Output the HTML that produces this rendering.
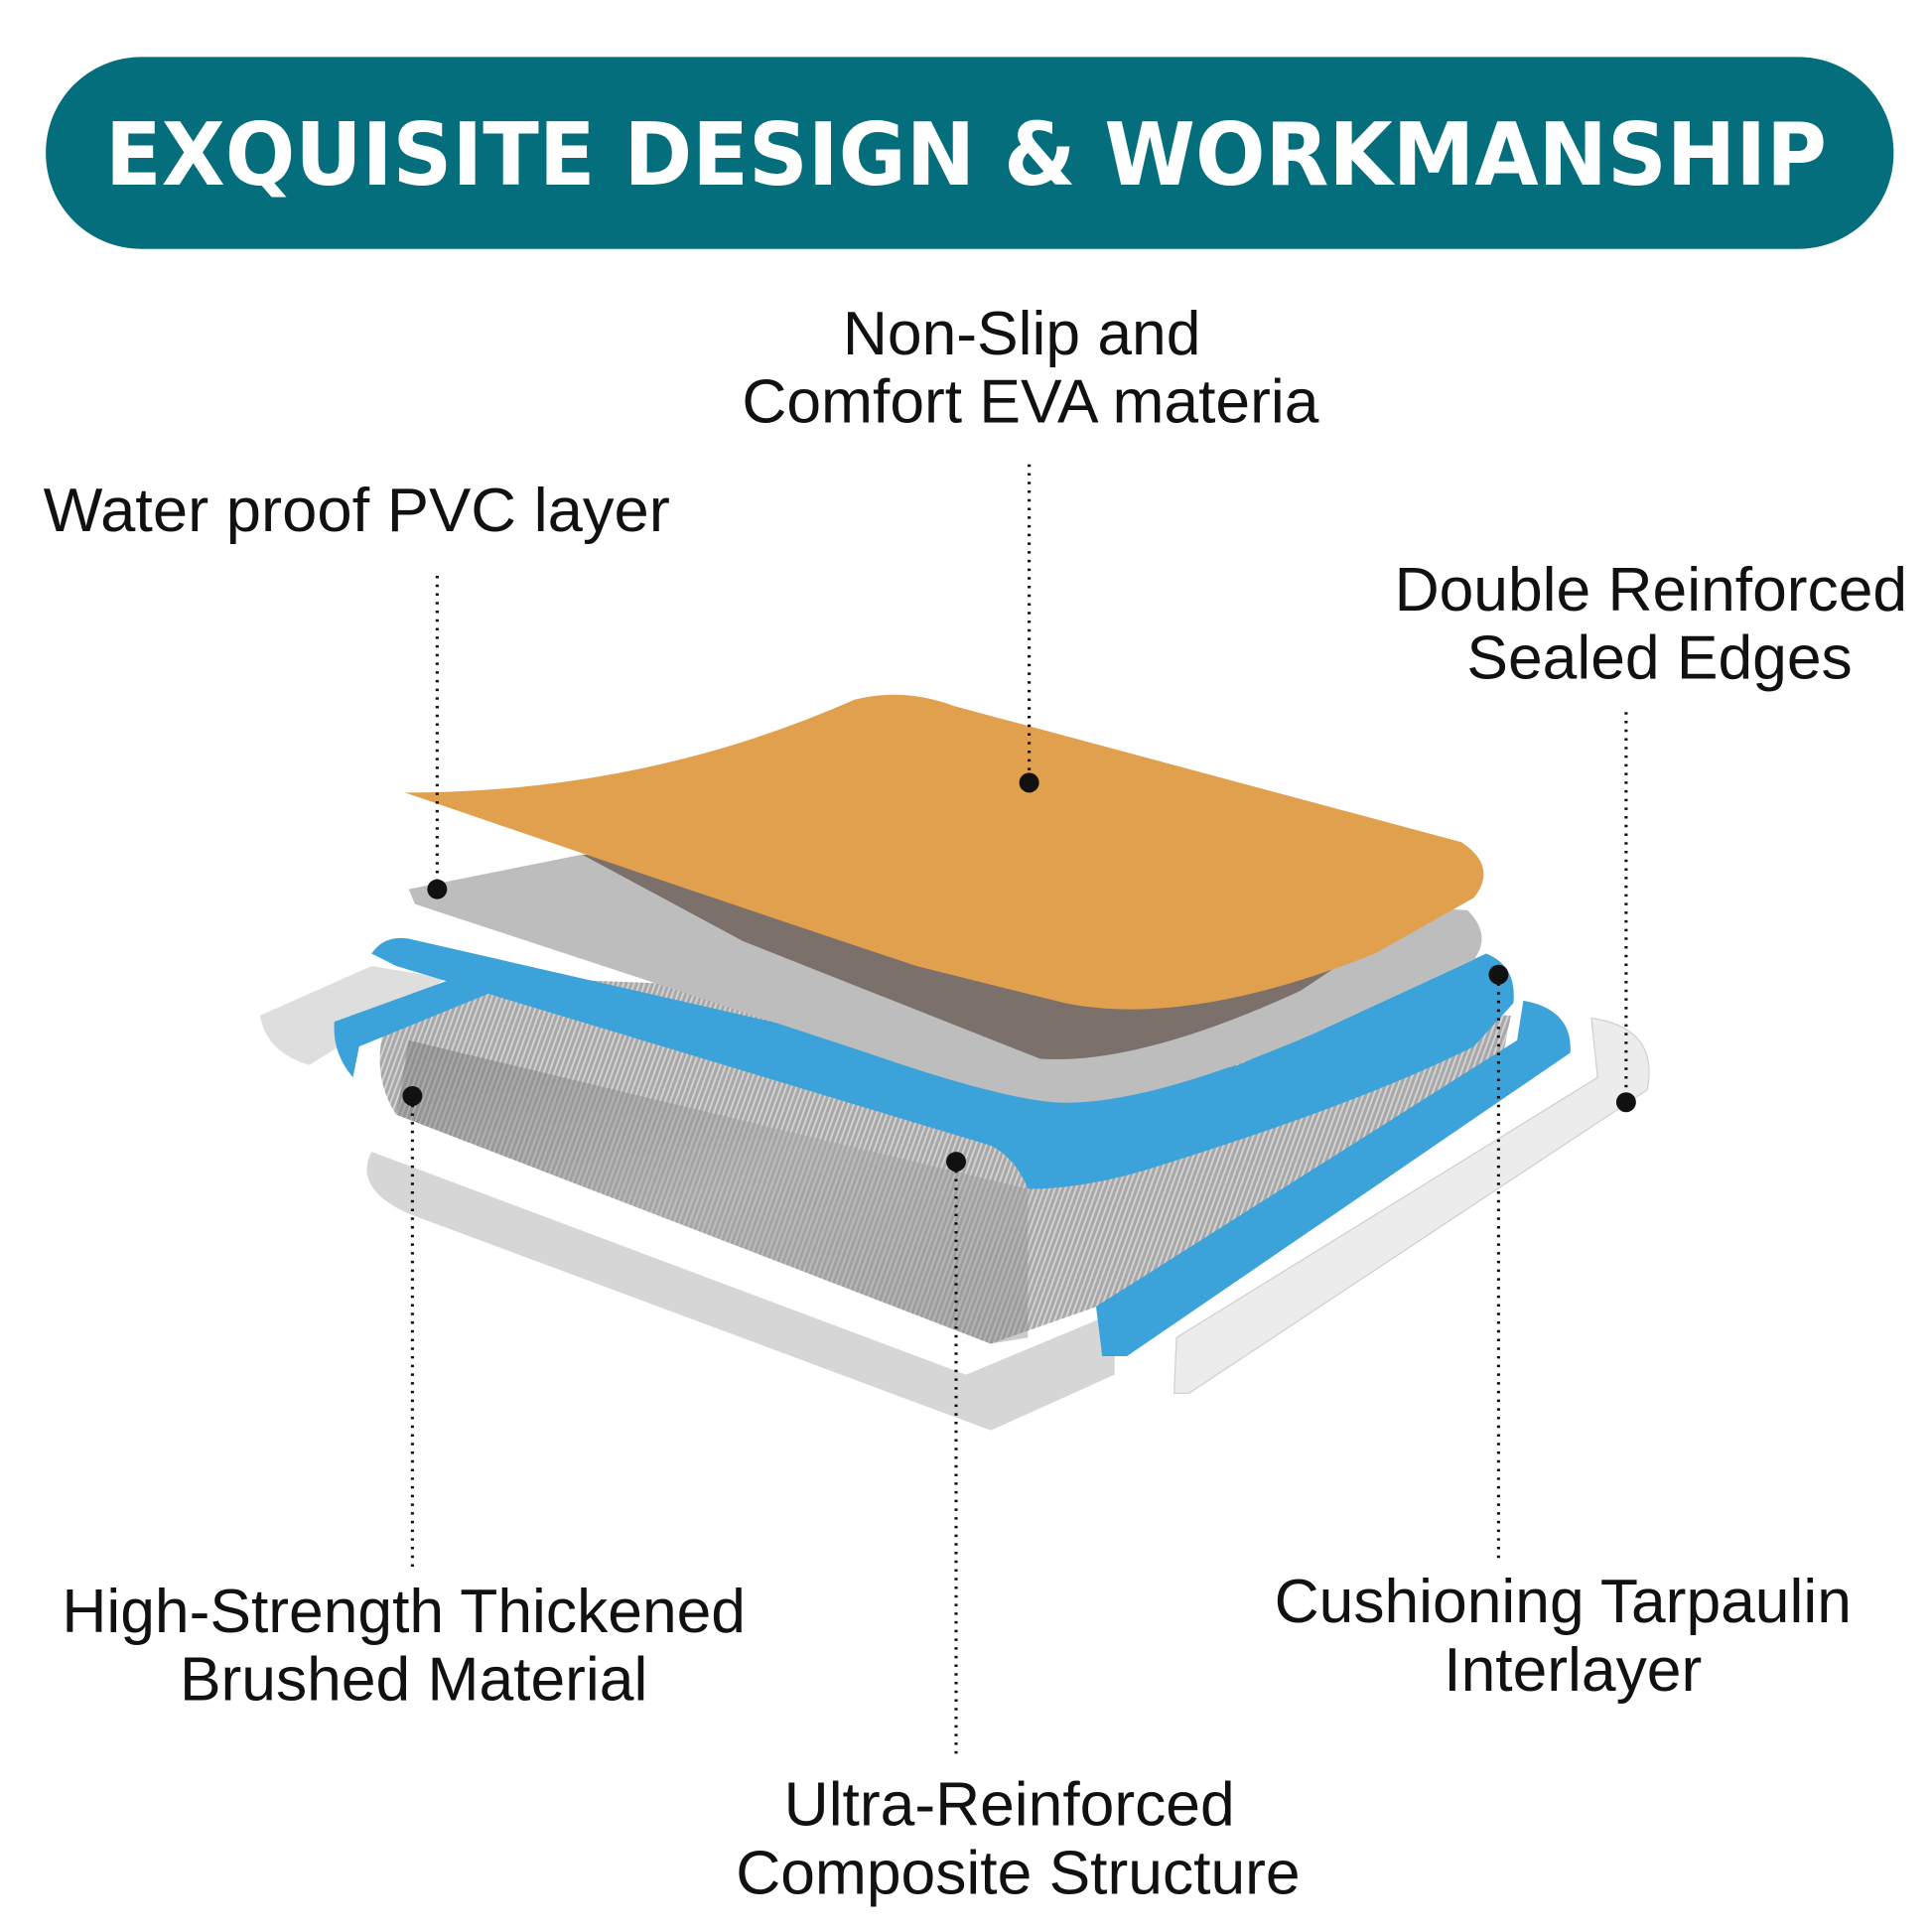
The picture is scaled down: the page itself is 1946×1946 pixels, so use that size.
<!DOCTYPE html>
<html><head><meta charset="utf-8"><style>
html,body{margin:0;padding:0;background:#fff}
svg{display:block}
text{font-family:"Liberation Sans",sans-serif}
</style></head><body>
<svg width="1946" height="1946" viewBox="0 0 1560 1560" xmlns="http://www.w3.org/2000/svg">
<defs>
<linearGradient id="mesh" x1="0" y1="0" x2="1" y2="1"><stop offset="0" stop-color="#6d6d6d"/><stop offset=".5" stop-color="#a5a5a5"/><stop offset="1" stop-color="#8a8a8a"/></linearGradient>
<pattern id="lines" width="4" height="4" patternUnits="userSpaceOnUse" patternTransform="rotate(20)"><rect width="4" height="4" fill="#a8a8a8"/><rect width="1.5" height="4" fill="#d4d4d4"/></pattern>
</defs>
<rect x="37" y="46" width="1492" height="155" rx="77" fill="#046e7c"/>
<text x="780" y="149" text-anchor="middle" fill="#fff" font-size="70" font-weight="bold" textLength="1390" lengthAdjust="spacingAndGlyphs" style="font-family:'DejaVu Sans','Liberation Sans',sans-serif;font-weight:900">EXQUISITE DESIGN &amp; WORKMANSHIP</text>

<g fill="#111" font-size="50">
<text x="825" y="286" text-anchor="middle">Non-Slip and</text>
<text x="832" y="341" text-anchor="middle">Comfort EVA materia</text>
<text x="35" y="429" textLength="506" lengthAdjust="spacingAndGlyphs">Water proof PVC layer</text>
<text x="1333" y="493" text-anchor="middle">Double Reinforced</text>
<text x="1340" y="548" text-anchor="middle">Sealed Edges</text>
<text x="326" y="1318" text-anchor="middle">High-Strength Thickened</text>
<text x="334" y="1373" text-anchor="middle">Brushed Material</text>
<text x="1262" y="1310" text-anchor="middle">Cushioning Tarpaulin</text>
<text x="1270" y="1365" text-anchor="middle">Interlayer</text>
<text x="815" y="1474" text-anchor="middle">Ultra-Reinforced</text>
<text x="822" y="1529" text-anchor="middle">Composite Structure</text>
</g>

<path d="M300 930 L780 1110 L900 1060 L900 1110 L800 1155 L330 980 Q285 960 300 930Z" fill="#d6d6d6"/>
<path d="M1285 822 Q1340 830 1330 880 L960 1125 L948 1125 L950 1080 L1290 870Z" fill="#ececec" stroke="#d0d0d0"/>
<path d="M210 820 L300 780 L360 790 L250 860 Q215 850 210 820Z" fill="#dedede"/>
<path d="M310 830 L430 790 L1220 820 L1210 870 L900 1050 L800 1085 L320 900 Q300 870 310 830Z" fill="url(#lines)"/>
<path d="M320 900 L800 1085 L830 1080 L830 960 L330 840Z" fill="url(#mesh)" opacity=".45"/>
<path d="M1230 808 Q1270 815 1268 850 L910 1095 L890 1095 L885 1055 L1225 840Z" fill="#3ca3da"/>
<path d="M270 825 L380 785 L400 800 L290 845 L285 870 Q268 850 270 825Z" fill="#3ca3da"/>
<path d="M300 770 Q310 755 330 758 L820 870 Q880 890 1000 860 L1200 770 Q1225 780 1222 810 L1190 845 Q1100 890 940 940 Q880 960 830 960 Q820 935 800 925 L320 780Z" fill="#3ca3da"/>
<path d="M330 718 L470 690 L1185 735 Q1205 755 1190 775 L1060 835 Q920 895 850 890 Q800 885 700 850 L335 730Z" fill="#bdbdbd"/>
<path d="M470 690 L1140 740 L1050 800 Q920 860 840 855 L600 760Z" fill="#6b5d55" opacity=".8"/>
<path d="M327 640 Q520 640 690 565 Q730 555 770 570 L1180 680 Q1210 700 1190 725 L1110 770 Q960 830 860 810 L740 780 Q560 720 327 640Z" fill="#e0a04e"/>

<g stroke="#111" stroke-width="2.5" stroke-dasharray="2 5" fill="none">
<line x1="831" y1="375" x2="831" y2="632"/>
<line x1="353" y1="465" x2="353" y2="718"/>
<line x1="1313" y1="575" x2="1313" y2="890"/>
<line x1="333" y1="885" x2="333" y2="1265"/>
<line x1="772" y1="938" x2="772" y2="1418"/>
<line x1="1210" y1="787" x2="1210" y2="1260"/>
</g>
<g fill="#111">
<circle cx="831" cy="632" r="8"/><circle cx="353" cy="718" r="8"/><circle cx="1313" cy="890" r="8"/>
<circle cx="333" cy="885" r="8"/><circle cx="772" cy="938" r="8"/><circle cx="1210" cy="787" r="8"/>
</g>
</svg>
</body></html>
